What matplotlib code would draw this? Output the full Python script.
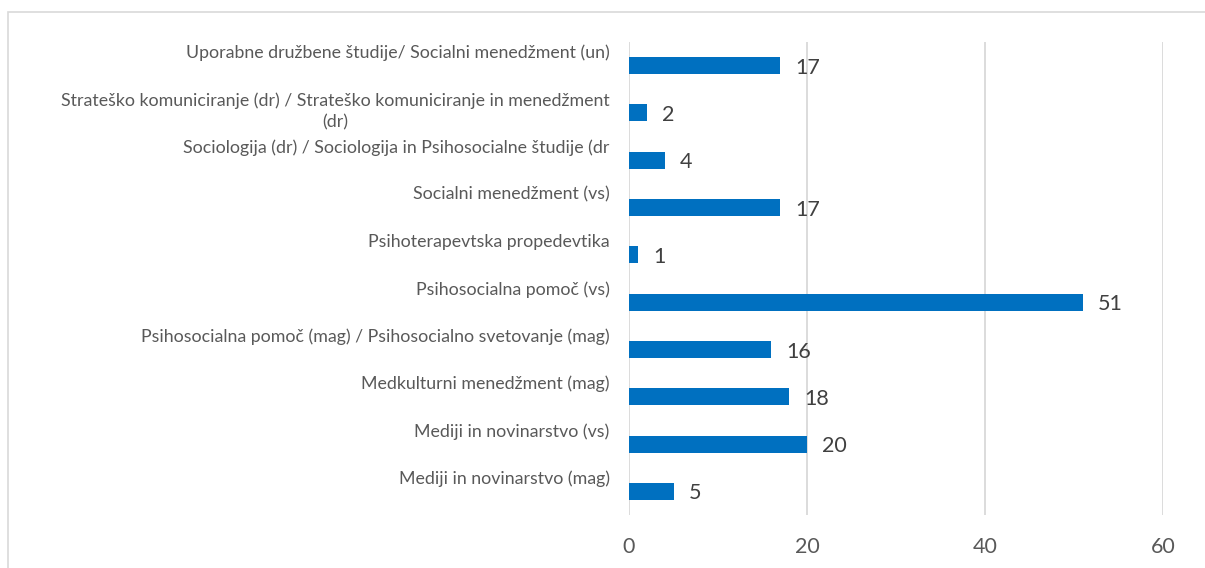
import matplotlib
matplotlib.use("Agg")
import matplotlib.pyplot as plt
from matplotlib.patches import Rectangle

categories = [
    "Uporabne družbene študije/ Socialni menedžment (un)",
    "Strateško komuniciranje (dr) / Strateško komuniciranje in menedžment\n(dr)",
    "Sociologija (dr) / Sociologija in Psihosocialne študije (dr",
    "Socialni menedžment (vs)",
    "Psihoterapevtska propedevtika",
    "Psihosocialna pomoč (vs)",
    "Psihosocialna pomoč (mag) / Psihosocialno svetovanje (mag)",
    "Medkulturni menedžment (mag)",
    "Mediji in novinarstvo (vs)",
    "Mediji in novinarstvo (mag)",
]
values = [17, 2, 4, 17, 1, 51, 16, 18, 20, 5]
xticks = [0, 20, 40, 60]

plt.rcParams['font.family'] = ['Lato', 'DejaVu Sans']

W, H = 1205, 568
fig = plt.figure(figsize=(W / 100, H / 100), dpi=100)

# chart frame (cropped on right and bottom)
fig.patches.append(Rectangle((8 / W, -0.1), 1.2, 1 - 12 / H + 0.1,
                             transform=fig.transFigure, fill=False,
                             edgecolor='#d9d9d9', linewidth=1.2))

ax = fig.add_axes([629 / W, 1 - 515 / H, (1163 - 629) / W, (515 - 42) / H])
ypos = list(range(len(categories)))
ax.barh(ypos, values, height=0.36, color='#0070C0', zorder=3)
ax.set_ylim(len(categories) - 0.5, -0.5)
ax.set_xlim(0, 60)
ax.set_xticks(xticks)
ax.set_xticklabels([str(t) for t in xticks])
ax.tick_params(axis='x', length=0, pad=16, labelsize=15.5, labelcolor='#595959')
ax.set_yticks([])
for s in ax.spines.values():
    s.set_visible(False)
ax.grid(axis='x', color='#d9d9d9', linewidth=1.3, zorder=0)

for y, v in zip(ypos, values):
    ax.annotate(str(v), (v, y), xytext=(11, -1.5), textcoords='offset points',
                va='center', ha='left', fontsize=15.5, color='#404040')

for y, c in zip(ypos, categories):
    ax.annotate(c, (0, y), xytext=(-14, 15), textcoords='offset points',
                va='top', ha='right', multialignment='center',
                fontsize=12.8, color='#595959', linespacing=1.45,
                annotation_clip=False)

fig.savefig("out.png", dpi=100)
